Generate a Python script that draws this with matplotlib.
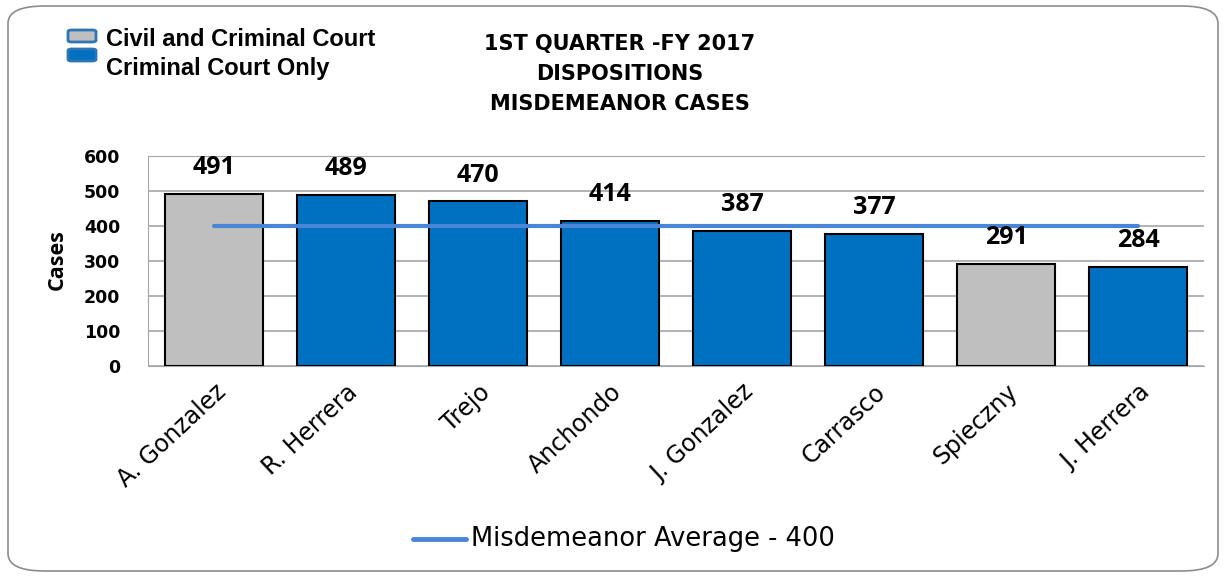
import matplotlib
matplotlib.use("Agg")
import matplotlib.pyplot as plt
from matplotlib.patches import FancyBboxPatch
from matplotlib.lines import Line2D

judges = ["A. Gonzalez", "R. Herrera", "Trejo", "Anchondo", "J. Gonzalez",
          "Carrasco", "Spieczny", "J. Herrera"]
cases = [491, 489, 470, 414, 387, 377, 291, 284]
court_type = ["civil", "criminal", "criminal", "criminal", "criminal",
              "criminal", "civil", "criminal"]
average = 400
yticks = [0, 100, 200, 300, 400, 500, 600]

colors = {"civil": "#BFBFBF", "criminal": "#0070C0"}

W, H = 1226, 577
fig = plt.figure(figsize=(W / 100, H / 100), dpi=100)
fig.patch.set_facecolor("white")

# rounded outer border
border = FancyBboxPatch((8 / W, 6 / H), (W - 16) / W, (H - 12) / H,
                        boxstyle="round,pad=0,rounding_size=0.03",
                        transform=fig.transFigure, fill=False,
                        edgecolor="#8C8C8C", linewidth=1.2)
fig.patches.append(border)

ax = fig.add_axes([148 / W, 1 - 366 / H, (1204 - 148) / W, (366 - 156) / H])
x = list(range(len(judges)))
ax.bar(x, cases, width=0.74, color=[colors[t] for t in court_type],
       edgecolor="black", linewidth=1.5, zorder=3)
ax.plot([x[0], x[-1]], [average, average], color="#4A86D8", linewidth=3,
        solid_capstyle="round", zorder=4)
for xi, v in zip(x, cases):
    ax.annotate(str(v), (xi, v), xytext=(0, 19), textcoords="offset points",
                ha="center", va="center", fontsize=18, fontweight="bold",
                family="Open Sans", zorder=5)

ax.set_xlim(-0.5, len(judges) - 0.5)
ax.set_ylim(0, 600)
ax.set_yticks(yticks)
ax.set_yticklabels([str(t) for t in yticks], fontsize=12.5, fontweight="bold",
                   family="DejaVu Sans")
ax.set_xticks(x)
ax.set_xticklabels(judges, rotation=43, ha="right", rotation_mode="anchor",
                   fontsize=17, family="DejaVu Sans")
ax.tick_params(axis="x", length=0, pad=10)
ax.tick_params(axis="y", length=0, pad=20)
ax.yaxis.grid(True, color="#A6A6A6", linewidth=1.2, zorder=0)
for s in ["top", "left", "right", "bottom"]:
    ax.spines[s].set_color("#A6A6A6")
ax.spines["right"].set_visible(False)
fig.text(57 / W, 1 - 260 / H, "Cases", rotation=90, ha="center", va="center",
         fontsize=15.5, fontweight="bold", family="Open Sans")

# title
fig.text(620 / W, 1 - 74 / H, "1ST QUARTER -FY 2017\nDISPOSITIONS\nMISDEMEANOR CASES",
         ha="center", va="center", fontsize=15, fontweight="bold",
         family="DejaVu Sans", linespacing=1.6)

# top-left legend
for i, t in enumerate(["civil", "criminal"]):
    yc = 1 - (36 + i * 19) / H
    r = FancyBboxPatch((68 / W, yc - 6 / H), 28 / W, 12 / H,
                       boxstyle="round,pad=0,rounding_size=0.003",
                       transform=fig.transFigure, facecolor=colors[t],
                       edgecolor="#2E75B6", linewidth=2)
    fig.patches.append(r)
fig.text(106 / W, 1 - 40 / H, "Civil and Criminal Court", ha="left", va="center",
         fontsize=17, fontweight="bold", family="Liberation Sans")
fig.text(106 / W, 1 - 68 / H, "Criminal Court Only", ha="left", va="center",
         fontsize=17, fontweight="bold", family="Liberation Sans")

# bottom legend
fig.lines.append(Line2D([413 / W, 466 / W], [1 - 539 / H, 1 - 539 / H],
                        transform=fig.transFigure, color="#4A86D8",
                        linewidth=3.5, solid_capstyle="round"))
fig.text(471 / W, 1 - 539 / H, "Misdemeanor Average - 400", ha="left",
         va="center", fontsize=18.5, family="DejaVu Sans")

fig.savefig("out.png", dpi=100)
